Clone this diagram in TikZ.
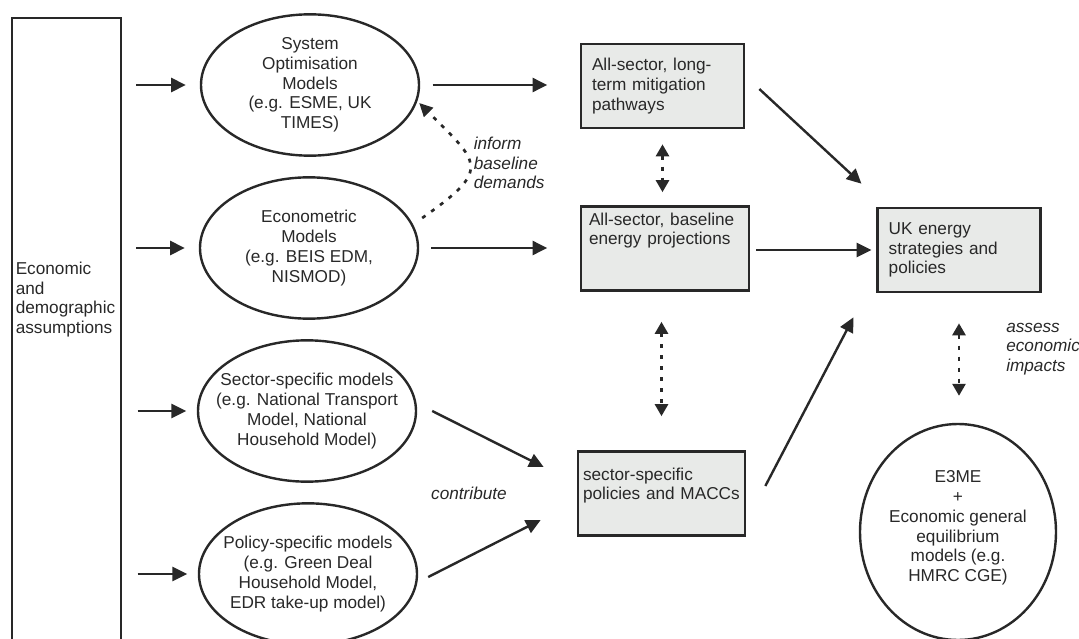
\documentclass[tikz,border=0pt]{standalone}
\usepackage{fontspec}
\setmainfont{Liberation Sans}
\usetikzlibrary{arrows.meta,shapes.geometric}
\definecolor{inkgrey}{RGB}{40,40,40}
\definecolor{boxgrey}{RGB}{232,234,232}

\begin{document}
\begin{tikzpicture}[x=0.75pt,y=0.75pt,yscale=-1,xscale=1,
  every node/.style={font=\fontsize{12.9}{14.8}\selectfont, text=inkgrey},
  model/.style={ellipse, draw=inkgrey, line width=1.8pt, inner sep=0pt, minimum width=163.5pt, minimum height=106pt},
  mtext/.style={align=center, inner sep=0pt},
  result/.style={draw=inkgrey, fill=boxgrey, line width=2pt, align=left, minimum height=63pt, inner ysep=0pt},
  arr/.style={draw=inkgrey, line width=1.8pt, -{Triangle[length=11pt,width=10.5pt]}},
  dotlink/.style={draw=inkgrey, line width=2pt, dash pattern=on 3pt off 5.25pt},
  dotarr/.style={dotlink, {Triangle[length=9pt,width=9.75pt]}-{Triangle[length=9pt,width=9.75pt]}},
  dotone/.style={dotlink, -{Triangle[length=10pt,width=9.5pt]}},
  note/.style={font=\fontsize{12.9}{14.8}\selectfont\itshape, align=left, inner sep=0pt}
]
\useasboundingbox (0,0) rectangle (1079,639);

%Shape: Rectangle (assumptions)
\node[draw=inkgrey, line width=1.8pt, minimum width=81.75pt, minimum height=475pt, anchor=north west, inner sep=0pt] (assume) at (11,17) {};
% Text Node
\node[anchor=west, align=left, inner sep=0pt] (assume-txt) at (15.5,299.5) {Economic\\and\\demographic\\assumptions};

%Shape: Ellipse (models)
\node[model, label={[mtext]center:{System\\Optimisation\\Models\\(e.g. ESME, UK\\TIMES)}}] (optim) at (310,85) {};
\node[model, label={[mtext]center:{Econometric\\Models\\(e.g. BEIS EDM,\\NISMOD)}}] (econ) at (309,248) {};
\node[model, label={[mtext]center:{Sector-specific models\\(e.g. National Transport\\Model, National\\Household Model)}}] (secmod) at (307,411) {};
\node[model, label={[mtext]center:{Policy-specific models\\(e.g. Green Deal\\Household Model,\\EDR take-up model)}}] (polmod) at (308,574) {};
\node[model, minimum width=147pt, minimum height=162pt, label={[mtext, yshift=3pt]center:{E3ME\\+\\Economic general\\equilibrium\\models (e.g.\\HMRC CGE)}}] (cge) at (958,532) {};

%Shape: Rectangle (outputs)
\node[result, inner xsep=8.25pt, text width=105.75pt] (longterm) at (662.5,86) {All-sector, long-\\term mitigation\\pathways};
\node[result, inner xsep=6pt, text width=114pt] (base) at (665,248.5) {All-sector, baseline\\energy projections\\~\\~};
\node[result, inner xsep=8.6pt, text width=105.4pt] (uk) at (959,250) {UK energy\\strategies and\\policies};
\node[result, inner xsep=3.75pt, text width=117.75pt] (sector) at (661.5,493.5) {sector-specific\\policies and MACCs\\~};

%Straight Lines (assumptions to models)
\draw[arr, shorten <=10.5pt, shorten >=10.5pt] (assume.east |- optim.west) -- (optim.west);
\draw[arr, shorten <=10.5pt, shorten >=10.5pt] (assume.east |- econ.west) -- (econ.west);
\draw[arr, shorten <=11.5pt, shorten >=8pt] (assume.east |- secmod.west) -- (secmod.west);
\draw[arr, shorten <=11.5pt, shorten >=8pt] (assume.east |- polmod.west) -- (polmod.west);

%Straight Lines (models to outputs)
\draw[arr, shorten <=9.4pt, shorten >=24.3pt] (optim.east) -- (optim.east -| longterm.west);
\draw[arr, shorten <=9pt, shorten >=24.3pt] (econ.east) -- (econ.east -| base.west);
\draw[arr] ([shift={(15,0)}]secmod.east) -- ([shift={(-33,-26.5)}]sector.west);
\draw[arr] ([shift={(10,3)}]polmod.east) -- ([shift={(-36,26.5)}]sector.west);

%Straight Lines (outputs to strategies)
\draw[arr] ([shift={(14,3)}]longterm.east) -- ([shift={(-14.5,-23)}]uk.north west);
\draw[arr, shorten <=4.5pt, shorten >=3.4pt] (base.east |- uk.west) -- (uk.west);
\draw[arr] ([shift={(19,-7.5)}]sector.east) -- ([shift={(-22.5,24)}]uk.south west);

%Dotted Lines
\draw[dotone] ([shift={(3,-30)}]econ.east) to[out=-35, in=45, looseness=1.9] ([shift={(-1,18)}]optim.east);
\draw[dotarr, shorten <=11.25pt, shorten >=9.75pt] (longterm.south) -- (longterm.south |- base.north);
\draw[dotarr, shorten <=22.5pt, shorten >=25.5pt] (base.south -| sector.north) -- (sector.north);
\draw[dotarr, shorten <=22.5pt, shorten >=20.25pt] (uk.south) -- (uk.south |- cge.north);

% Text Node
\node[note, anchor=west] (inform) at (473.5,163) {inform\\baseline\\demands};
% Text Node
\node[note] (contrib) at (469,493) {contribute};
% Text Node
\node[note, anchor=west] (assess) at (1006,349) {assess\\economic\\impacts};

\end{tikzpicture}
\end{document}
